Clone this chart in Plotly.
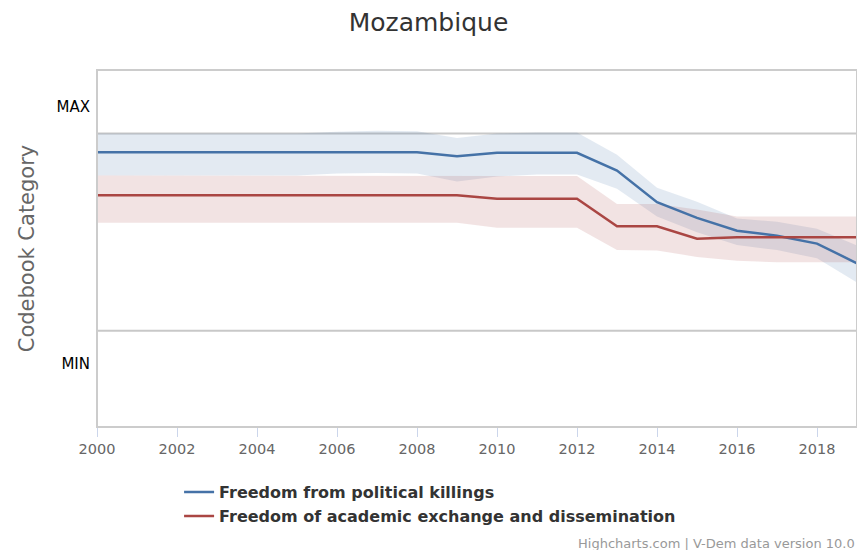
import plotly.graph_objects as go

# V-Dem indicator estimates for Mozambique (codebook scale 0-4) with credible intervals
years = list(range(2000, 2020))

killings = [3.62, 3.62, 3.62, 3.62, 3.62, 3.62, 3.62, 3.62, 3.62, 3.54,
            3.61, 3.61, 3.61, 3.25, 2.61, 2.29, 2.03, 1.93, 1.77, 1.37]
killings_high = [4.00, 4.00, 4.00, 4.00, 4.00, 4.00, 4.04, 4.06, 4.05, 3.91,
                 4.00, 4.02, 4.02, 3.57, 2.90, 2.62, 2.28, 2.21, 2.07, 1.73]
killings_low = [3.15, 3.15, 3.15, 3.15, 3.15, 3.15, 3.19, 3.20, 3.19, 3.03,
                3.13, 3.17, 3.17, 2.88, 2.32, 2.00, 1.74, 1.64, 1.47, 0.98]

academic = [2.75, 2.75, 2.75, 2.75, 2.75, 2.75, 2.75, 2.75, 2.75, 2.75,
            2.68, 2.68, 2.68, 2.12, 2.12, 1.87, 1.90, 1.90, 1.90, 1.90]
academic_high = [3.15, 3.15, 3.15, 3.15, 3.15, 3.15, 3.15, 3.15, 3.15, 3.15,
                 3.14, 3.14, 3.14, 2.57, 2.57, 2.46, 2.32, 2.32, 2.32, 2.32]
academic_low = [2.19, 2.19, 2.19, 2.19, 2.19, 2.19, 2.19, 2.19, 2.19, 2.19,
                2.09, 2.09, 2.09, 1.64, 1.63, 1.50, 1.42, 1.39, 1.39, 1.39]

series = [
    ("Freedom from political killings", killings, killings_low, killings_high,
     "#4572A7", "rgba(69,114,167,0.15)"),
    ("Freedom of academic exchange and dissemination", academic, academic_low,
     academic_high, "#AA4643", "rgba(170,70,67,0.15)"),
]

scale_min, scale_max = 0, 4
tick_positions = [4.55, -0.67]
tick_labels = ["MAX", "MIN"]
x_ticks = list(range(2000, 2019, 2))

fig = go.Figure()

# interval bands first so the lines sit on top
for name, mid, low, high, line_col, band_col in series:
    fig.add_trace(go.Scatter(x=years, y=low, mode="lines", line=dict(width=0),
                             showlegend=False, hoverinfo="skip"))
    fig.add_trace(go.Scatter(x=years, y=high, mode="lines", line=dict(width=0),
                             fill="tonexty", fillcolor=band_col,
                             showlegend=False, hoverinfo="skip"))

for name, mid, low, high, line_col, band_col in series:
    fig.add_trace(go.Scatter(x=years, y=mid, mode="lines", name=name,
                             line=dict(color=line_col, width=2.5)))

# horizontal reference lines at the ends of the codebook scale
for v in (scale_min, scale_max):
    fig.add_shape(type="line", xref="paper", x0=0, x1=1, yref="y", y0=v, y1=v,
                  line=dict(color="#c8c8c8", width=2), layer="below")

# plot border
fig.add_shape(type="rect", xref="paper", yref="paper", x0=0, x1=1, y0=0, y1=1,
              line=dict(color="#cccccc", width=2), layer="above")

fig.update_layout(
    width=857, height=550,
    margin=dict(l=97, r=0, t=70, b=123),
    paper_bgcolor="white", plot_bgcolor="white",
    font=dict(family="DejaVu Sans", color="#333333"),
    title=dict(text="Mozambique", x=0.5, xref="container", xanchor="center",
               y=1 - 22 / 550, yref="container", yanchor="middle",
               font=dict(size=25, color="#333333")),
    xaxis=dict(range=[2000, 2019], tickvals=x_ticks, showgrid=False,
               zeroline=False, showline=False, ticks="outside", ticklen=9,
               tickcolor="#ccd6eb", tickfont=dict(size=14.5, color="#666666")),
    yaxis=dict(range=[-1.95, 5.29], tickvals=tick_positions, ticktext=tick_labels,
               showgrid=False, zeroline=False, showline=False, ticks="",
               ticklabelstandoff=6,
               tickfont=dict(size=15, color="#000000"),
               title=dict(text="Codebook Category", standoff=16,
                          font=dict(size=21, color="#666666"))),
    legend=dict(orientation="v", x=0.108, xanchor="left", y=-0.135, yanchor="top",
                traceorder="normal",
                font=dict(size=16, color="#333333", weight="bold"),
                tracegroupgap=0, itemwidth=30, bgcolor="rgba(0,0,0,0)"),
    showlegend=True,
    annotations=[dict(text="Highcharts.com | V-Dem data version 10.0",
                      xref="paper", yref="paper", x=1, y=-0.325,
                      xanchor="right", yanchor="middle", showarrow=False,
                      font=dict(size=13, color="#999999"))],
)

fig.write_html("out.html")
